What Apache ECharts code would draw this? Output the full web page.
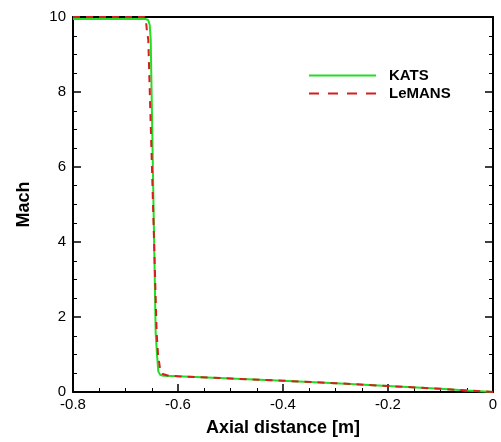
<!DOCTYPE html>
<html>
<head>
<meta charset="utf-8">
<script src="https://cdn.jsdelivr.net/npm/echarts@6/dist/echarts.min.js"></script>
<style>
  html, body { margin: 0; padding: 0; background: #fff; }
  #chart { width: 501px; height: 442px; }
</style>
</head>
<body>
<div id="chart"></div>
<script>
// Axial Mach number profiles from the two solvers
const katsX = [-0.80, -0.70, -0.662, -0.657, -0.654, -0.652, -0.6425, -0.6400, -0.6375, -0.634, -0.628, -0.60, -0.50, -0.40, -0.30, -0.20, -0.10, -0.05, 0.0];
const katsMach = [9.95, 9.95, 9.95, 9.92, 9.80, 9.40, 1.57, 1.00, 0.55, 0.46, 0.435, 0.42, 0.36, 0.30, 0.235, 0.16, 0.085, 0.04, 0.0];

const lemansX = [-0.80, -0.70, -0.664, -0.661, -0.659, -0.6566, -0.6406, -0.638, -0.634, -0.629, -0.620, -0.60, -0.50, -0.40, -0.30, -0.20, -0.10, -0.05, 0.0];
const lemansMach = [10.0, 10.0, 10.0, 9.90, 9.60, 9.40, 1.57, 1.00, 0.60, 0.48, 0.44, 0.42, 0.36, 0.30, 0.235, 0.16, 0.085, 0.04, 0.0];

const seriesNames = ['KATS', 'LeMANS'];

const pairs = (xs, ys) => xs.map((x, i) => [x, ys[i]]);

const font = '"Liberation Sans", Arial, Helvetica, sans-serif';

const chart = echarts.init(document.getElementById('chart'), null, { renderer: 'canvas' });

const tickInside = (len) => ({ show: true, inside: true, length: len, lineStyle: { color: '#000', width: 1.5 } });
const minorInside = (len) => ({ show: true, splitNumber: 4, length: len, lineStyle: { color: '#000', width: 1 } });

chart.setOption({
  animation: false,
  backgroundColor: '#fff',
  grid: { left: 73, right: 8, top: 17, bottom: 42, containLabel: false },
  legend: {
    orient: 'vertical',
    left: 308,
    top: 68,
    padding: 0,
    itemWidth: 67,
    itemHeight: 14,
    itemGap: 3,
    // keep only the line in each legend key
    itemStyle: { opacity: 0 },
    textStyle: { fontFamily: font, fontWeight: 'bold', fontSize: 15, color: '#000', padding: [0, 0, 0, 8] },
    data: [
      { name: seriesNames[0] },
      { name: seriesNames[1], lineStyle: { type: [10, 9] } }
    ]
  },
  xAxis: [
    {
      type: 'value',
      position: 'bottom',
      min: -0.8, max: 0, interval: 0.2,
      name: 'Axial distance [m]',
      nameLocation: 'middle',
      nameGap: 27,
      nameTextStyle: { fontFamily: font, fontWeight: 'bold', fontSize: 18, color: '#000' },
      axisLine: { onZero: false, lineStyle: { color: '#000', width: 2 } },
      axisTick: tickInside(8),
      minorTick: minorInside(4),
      axisLabel: { fontFamily: font, fontSize: 15, color: '#000', margin: 5, formatter: v => (Math.abs(v) < 1e-9 ? '0' : String(+v.toFixed(1))) },
      splitLine: { show: false }
    },
    {
      type: 'value',
      position: 'top',
      min: -0.8, max: 0, interval: 0.2,
      axisLine: { onZero: false, lineStyle: { color: '#000', width: 2 } },
      axisTick: { show: false },
      axisLabel: { show: false },
      splitLine: { show: false }
    }
  ],
  yAxis: [
    {
      type: 'value',
      position: 'left',
      min: 0, max: 10, interval: 2,
      name: 'Mach',
      nameLocation: 'middle',
      nameGap: 40,
      nameRotate: 90,
      nameTextStyle: { fontFamily: font, fontWeight: 'bold', fontSize: 18, color: '#000' },
      axisLine: { onZero: false, lineStyle: { color: '#000', width: 2 } },
      axisTick: tickInside(8),
      minorTick: minorInside(4),
      axisLabel: { fontFamily: font, fontSize: 15, color: '#000', margin: 7 },
      splitLine: { show: false }
    },
    {
      type: 'value',
      position: 'right',
      min: 0, max: 10, interval: 2,
      axisLine: { onZero: false, lineStyle: { color: '#000', width: 2 } },
      axisTick: tickInside(8),
      minorTick: minorInside(4),
      axisLabel: { show: false },
      splitLine: { show: false }
    }
  ],
  series: [
    {
      name: seriesNames[0],
      type: 'line',
      xAxisIndex: 0, yAxisIndex: 0,
      data: pairs(katsX, katsMach),
      showSymbol: false,
      symbol: 'none',
      smooth: false,
      lineStyle: { color: '#22dd22', width: 2 },
      itemStyle: { color: '#22dd22' },
      z: 2
    },
    {
      name: seriesNames[1],
      type: 'line',
      xAxisIndex: 0, yAxisIndex: 0,
      data: pairs(lemansX, lemansMach),
      showSymbol: false,
      symbol: 'none',
      smooth: false,
      lineStyle: { color: '#d41f1f', width: 2, type: [7, 6] },
      itemStyle: { color: '#d41f1f' },
      z: 3
    }
  ]
});
</script>
</body>
</html>
